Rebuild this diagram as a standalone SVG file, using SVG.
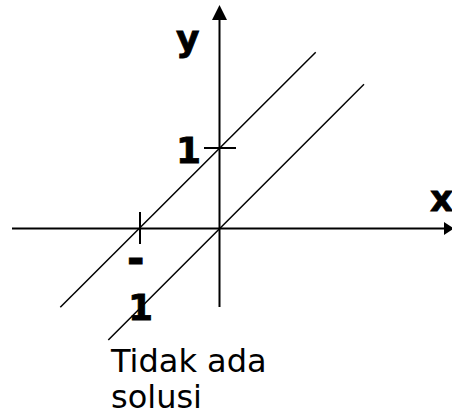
<svg xmlns="http://www.w3.org/2000/svg" width="452" height="415" viewBox="0 0 452 415">
<style>
.ax{stroke:#000;stroke-width:2;fill:none}
.ln{stroke:#000;stroke-width:1.5;fill:none}
.b{font-family:"DejaVu Sans",Verdana,sans-serif;font-weight:bold;font-size:36px;fill:#000;stroke:#000;stroke-width:0.8}
.r{font-family:"DejaVu Sans",Verdana,sans-serif;font-size:32px;fill:#000}
</style>
<rect width="452" height="415" fill="#fff"/>
<g id="connectors">
<line class="ax" x1="219.5" y1="307" x2="219.5" y2="18"/>
<polygon points="219.5,5 212,20 227,20" fill="#000"/>
<line class="ax" x1="12" y1="228.5" x2="446" y2="228.5"/>
<polygon points="454,228.5 444,222 444,235" fill="#000"/>
<line class="ax" x1="204" y1="148" x2="236" y2="148"/>
<line class="ax" x1="140" y1="212" x2="140" y2="244"/>
<line class="ln" x1="60.3" y1="307.3" x2="315.7" y2="52.3"/>
<line class="ln" x1="108.3" y1="340" x2="364" y2="84.3"/>
</g>
<g id="labels">
<text class="b" x="176" y="51">y</text>
<text class="b" x="176" y="163">1</text>
<text class="b" x="430" y="211">x</text>
<text class="b" x="127" y="273" style="font-size:42px">-</text>
<text class="b" x="128" y="320">1</text>
<text class="r" x="111" y="372">Tidak ada</text>
<text class="r" x="111" y="408">solusi</text>
</g>
</svg>
